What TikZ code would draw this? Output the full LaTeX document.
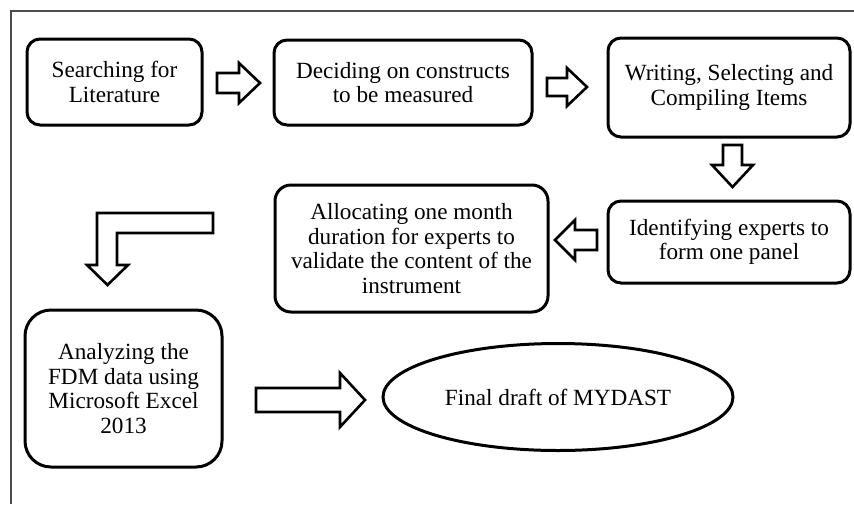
\documentclass[tikz,border=0pt]{standalone}
\usepackage{fontspec}
\setmainfont{Liberation Serif}
\usetikzlibrary{shapes.geometric}
\begin{document}
\begin{tikzpicture}[x=1pt,y=-1pt,
  box/.style={draw=black,line width=3pt,rounded corners=13pt,align=center,inner sep=0pt,
    font=\fontsize{23.2}{24.5}\selectfont},
  oval/.style={draw=black,line width=3pt,ellipse,inner sep=0pt,font=\fontsize{23.2}{24.5}\selectfont},
  blockarrow/.style={draw=black,line width=2.6pt,fill=white,line join=miter}]
\useasboundingbox (0,0) rectangle (854,504);
\fill[white] (0,0) rectangle (854,504);
% frame
\draw[draw=black!70,line width=1.3pt] (11,504) -- (11,11) -- (854,11);
% boxes
\node[box,minimum width=175pt,minimum height=86pt] (b1) at (114.5,82) {Searching for\\Literature};
\node[box,minimum width=258pt,minimum height=85pt] (b2) at (403,82.5) {Deciding on constructs\\to be measured};
\node[box,minimum width=242pt,minimum height=99pt] (b3) at (729,87.5) {Writing, Selecting and\\Compiling Items};
\node[box,minimum width=242pt,minimum height=82pt] (b4) at (729,242) {Identifying experts to\\form one panel};
\node[box,minimum width=273pt,minimum height=127pt,rounded corners=16pt] (b5) at (411.5,248.5) {Allocating one month\\duration for experts to\\validate the content of the\\instrument};
\node[box,minimum width=197pt,minimum height=157pt,rounded corners=26pt] (b6) at (123.5,388.5) {Analyzing the\\FDM data using\\Microsoft Excel\\2013};
\node[oval,minimum width=350pt,minimum height=107pt] (e) at (558,397) {Final draft of MYDAST};
% block arrows
\draw[blockarrow] (217,73) -- (239,73) -- (239,63) -- (260,83) -- (239,103) -- (239,93) -- (217,93) -- cycle;
\draw[blockarrow] (547,78) -- (567,78) -- (567,68) -- (587,87) -- (567,106) -- (567,96) -- (547,96) -- cycle;
\draw[blockarrow] (723,145) -- (742,145) -- (742,165) -- (753,165) -- (732.5,187) -- (712,165) -- (723,165) -- cycle;
\draw[blockarrow] (597,230) -- (575,230) -- (575,220) -- (555,240) -- (575,260) -- (575,250) -- (597,250) -- cycle;
\draw[blockarrow] (213,213) -- (97,213) -- (97,265) -- (87,265) -- (107.5,285) -- (128,265) -- (117,265) -- (117,233) -- (213,233) -- cycle;
\draw[blockarrow] (256,388) -- (340,388) -- (340,373) -- (365,400) -- (340,427) -- (340,412) -- (256,412) -- cycle;
\end{tikzpicture}
\end{document}
